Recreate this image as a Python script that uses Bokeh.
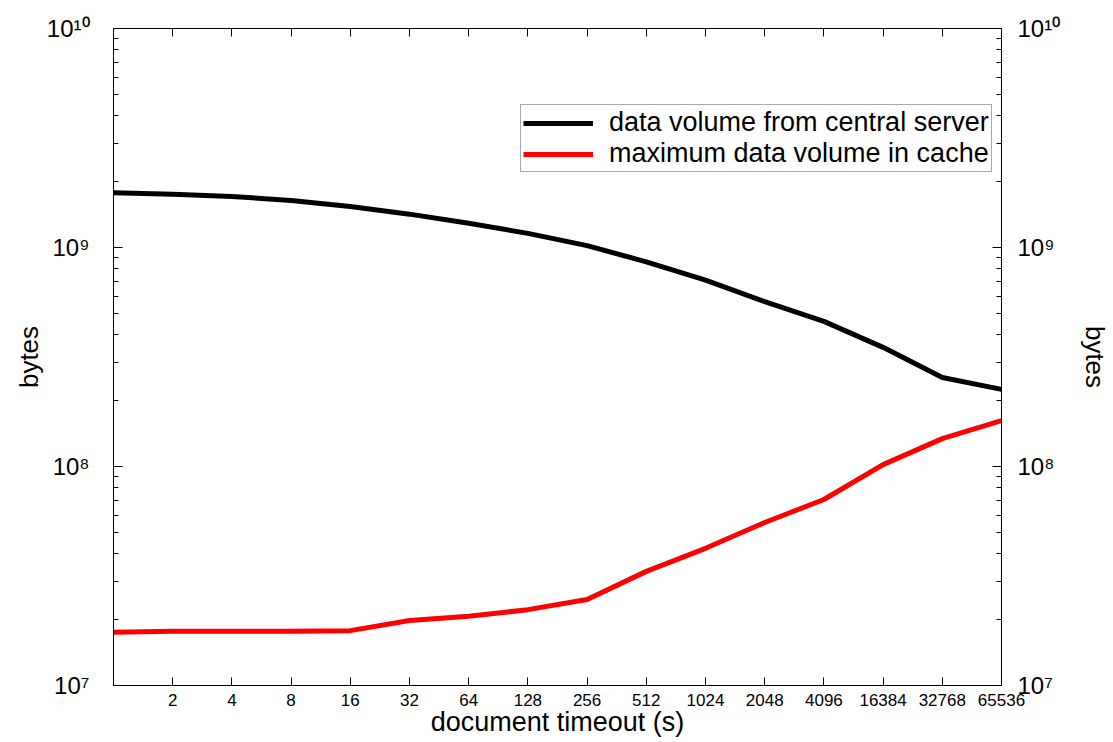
from bokeh.plotting import figure
from bokeh.models import (LinearAxis, LogAxis, FixedTicker, Legend,
                          LegendItem, Range1d)
from bokeh.embed import file_html
from bokeh.resources import INLINE

# ---- data -------------------------------------------------------------
timeout_tick_labels = ["2", "4", "8", "16", "32", "64", "128", "256", "512",
                       "1024", "2048", "4096", "16384", "32768", "65536"]
central_server = [1.78e9, 1.75e9, 1.71e9, 1.64e9, 1.54e9, 1.42e9, 1.29e9,
                  1.16e9, 1.02e9, 8.6e8, 7.1e8, 5.66e8, 4.6e8, 3.5e8,
                  2.55e8, 2.25e8]
cache_max = [1.75e7, 1.77e7, 1.77e7, 1.77e7, 1.78e7, 1.98e7, 2.07e7, 2.22e7,
             2.47e7, 3.32e7, 4.23e7, 5.55e7, 7.07e7, 1.02e8, 1.34e8, 1.62e8]
y_decades = [7, 8, 9, 10]
y_tick_labels = ["10\u2077", "10\u2078", "10\u2079", "10\u00b9\u2070"]
series_names = ["data volume from central server",
                "maximum data volume in cache"]

x = list(range(len(central_server)))
tick_pos = list(range(1, len(timeout_tick_labels) + 1))
x_lo, x_hi = x[0], x[-1]
y_lo, y_hi = 10 ** y_decades[0], 10 ** y_decades[-1]

FONT = "Liberation Sans"

p = figure(width=1113, height=742, y_axis_type="log",
           x_range=Range1d(x_lo, x_hi), y_range=Range1d(y_lo, y_hi),
           output_backend="svg", toolbar_location=None,
           min_border_left=113, min_border_right=111,
           min_border_top=28, min_border_bottom=57)
p.xgrid.visible = False
p.ygrid.visible = False
p.outline_line_color = "black"
p.background_fill_color = "white"

major_y = [10 ** e for e in y_decades]
minor_y = [m * 10 ** e for e in y_decades[:-1] for m in range(2, 10)]


def style_y(ax, standoff):
    ax.ticker = FixedTicker(ticks=major_y, minor_ticks=minor_y)
    ax.major_label_overrides = dict(zip(major_y, y_tick_labels))
    ax.major_label_text_font = FONT
    ax.major_label_text_font_size = "24px"
    ax.major_label_text_color = "black"
    ax.major_label_standoff = standoff
    ax.major_tick_in = 9
    ax.major_tick_out = 0
    ax.minor_tick_in = 5
    ax.minor_tick_out = 0
    ax.axis_line_color = "black"
    ax.major_tick_line_color = "black"
    ax.minor_tick_line_color = "black"
    ax.axis_label = "bytes"
    ax.axis_label_text_font = FONT
    ax.axis_label_text_font_style = "normal"
    ax.axis_label_text_font_size = "26px"
    ax.axis_label_text_color = "black"


def style_x(ax, labels=True):
    ax.ticker = FixedTicker(ticks=tick_pos, minor_ticks=[])
    ax.major_tick_in = 8
    ax.major_tick_out = 0
    ax.minor_tick_in = 0
    ax.minor_tick_out = 0
    ax.axis_line_color = "black"
    ax.major_tick_line_color = "black"
    if labels:
        ax.major_label_overrides = dict(zip(tick_pos, timeout_tick_labels))
        ax.major_label_text_font = FONT
        ax.major_label_text_font_size = "17px"
        ax.major_label_text_color = "black"
        ax.major_label_standoff = 8
    else:
        ax.major_label_overrides = {t: "" for t in tick_pos}
        ax.major_label_text_font_size = "1px"
        ax.major_label_standoff = 0


# bottom axis
bx = p.xaxis[0]
style_x(bx)
bx.axis_label = "document timeout (s)"
bx.axis_label_text_font = FONT
bx.axis_label_text_font_style = "normal"
bx.axis_label_text_font_size = "27px"
bx.axis_label_text_color = "black"
bx.axis_label_standoff = -2

# top axis
tx = LinearAxis()
style_x(tx, labels=False)
p.add_layout(tx, "above")

# left axis
ly = p.yaxis[0]
style_y(ly, 24)
ly.axis_label_standoff = 0

# right axis
ry = LogAxis()
style_y(ry, 16)
ry.axis_label_standoff = 17
p.add_layout(ry, "right")

r1 = p.line(x, central_server, line_color="black", line_width=5)
r2 = p.line(x, cache_max, line_color="red", line_width=5)

legend = Legend(items=[LegendItem(label=series_names[0], renderers=[r1]),
                       LegendItem(label=series_names[1], renderers=[r2])],
                location=(407, 513), padding=2, spacing=0, margin=0,
                glyph_width=70, glyph_height=28, label_height=28,
                label_standoff=16, label_text_font=FONT,
                label_text_font_size="27px", label_text_color="black",
                border_line_color="#555555", border_line_width=1,
                background_fill_color="white", background_fill_alpha=1,
                level="overlay")
p.add_layout(legend)

open("out.html", "w").write(file_html(p, INLINE))
